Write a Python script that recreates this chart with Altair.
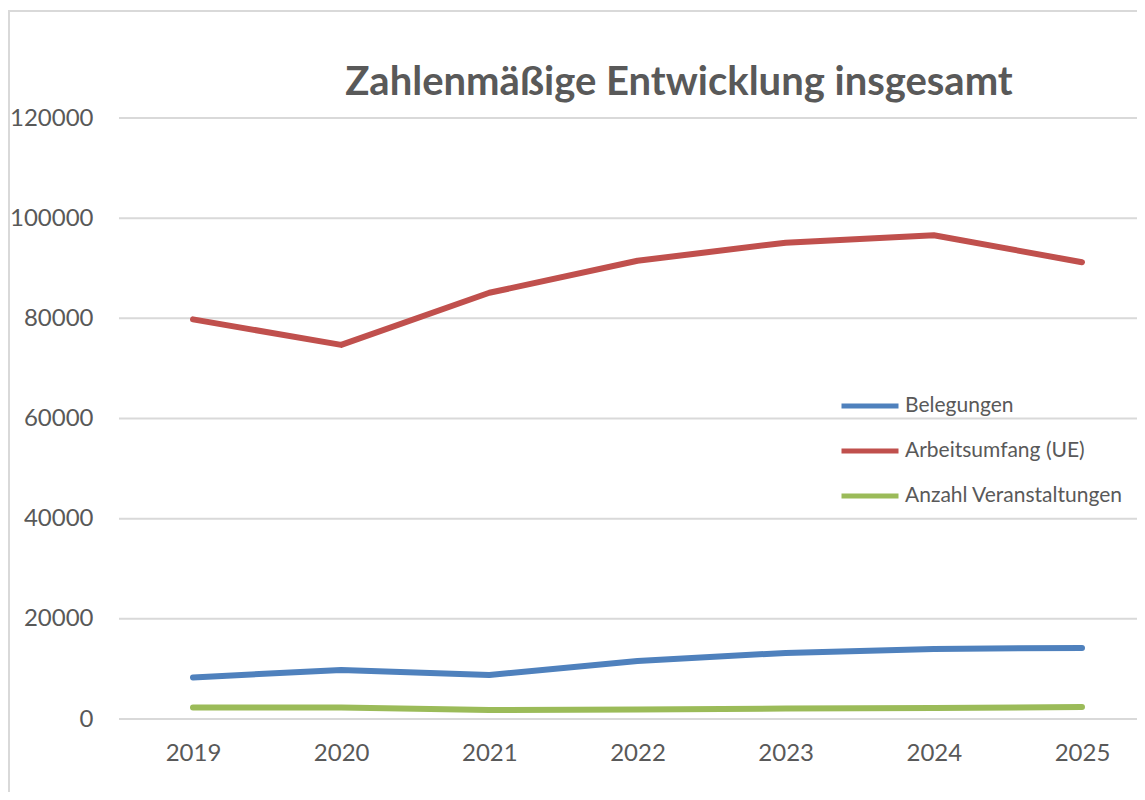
import altair as alt
import pandas as pd

years = ["2019", "2020", "2021", "2022", "2023", "2024", "2025"]
belegungen = [8300, 9800, 8800, 11600, 13200, 14000, 14200]
arbeitsumfang = [79800, 74700, 85100, 91500, 95100, 96600, 91200]
veranstaltungen = [2300, 2300, 1800, 1900, 2100, 2200, 2400]
series_names = ["Belegungen", "Arbeitsumfang (UE)", "Anzahl Veranstaltungen"]
series_colors = ["#4F81BD", "#C0504D", "#9BBB59"]
y_ticks = [0, 20000, 40000, 60000, 80000, 100000, 120000]
title_text = "Zahlenmäßige Entwicklung insgesamt"

rows = []
for name, vals in zip(series_names, [belegungen, arbeitsumfang, veranstaltungen]):
    for yr, v in zip(years, vals):
        rows.append({"Jahr": yr, "Wert": v, "Serie": name})
df = pd.DataFrame(rows)
grid_df = pd.DataFrame({"Wert": y_ticks})

W, H = 1018, 601
FONT = "Lato"
GREY = "#595959"

y_scale = alt.Scale(domain=[0, 120000], nice=False)
y_axis = alt.Axis(title=None, values=y_ticks, ticks=False, domain=False, grid=False,
                  format="d", labelFontSize=24, labelColor=GREY, labelFont=FONT,
                  labelPadding=26)

grid = alt.Chart(grid_df).mark_rule(stroke="#D9D9D9", strokeWidth=2).encode(
    y=alt.Y("Wert:Q", scale=y_scale, axis=y_axis),
    x=alt.value(0), x2=alt.value(W + 20),
)

lines = alt.Chart(df).mark_line(strokeWidth=6, strokeCap="round", strokeJoin="round").encode(
    x=alt.X("Jahr:O", sort=years,
            scale=alt.Scale(type="point", range=[74, 963], padding=0),
            axis=alt.Axis(title=None, labelAngle=0, ticks=False, domain=False, grid=False,
                          labelFontSize=24, labelColor=GREY, labelFont=FONT, labelPadding=22)),
    y=alt.Y("Wert:Q", scale=y_scale, axis=y_axis),
    color=alt.Color("Serie:N", sort=series_names,
                    scale=alt.Scale(domain=series_names, range=series_colors),
                    legend=alt.Legend(title=None, orient="none", legendX=720, legendY=257,
                                      symbolType="stroke", symbolSize=3249, symbolStrokeWidth=5,
                                      labelFontSize=21, labelColor=GREY, labelFont=FONT,
                                      labelOffset=4, rowPadding=4, labelLimit=0)),
)

one = pd.DataFrame({"a": [0]})
frame_left = alt.Chart(one).mark_rule(stroke="#D9D9D9", strokeWidth=2, clip=False).encode(
    x=alt.value(-110), y=alt.value(-108), y2=alt.value(H + 120))
frame_top = alt.Chart(one).mark_rule(stroke="#D9D9D9", strokeWidth=2, clip=False).encode(
    x=alt.value(-111), x2=alt.value(W + 20), y=alt.value(-107))

title = alt.Chart(one).mark_text(
    font=FONT, fontSize=40, fontWeight="bold", color=GREY, align="center", baseline="alphabetic"
).encode(x=alt.value(560), y=alt.value(-23), text=alt.value(title_text))

chart = alt.layer(frame_left, frame_top, grid, lines, title).properties(
    width=W, height=H,
    autosize=alt.AutoSizeParams(type="none"),
    padding={"left": 111, "top": 110, "right": 0, "bottom": 73},
).configure_view(stroke=None)

chart.save("out.html", embed_options={"renderer": "svg", "actions": False})
